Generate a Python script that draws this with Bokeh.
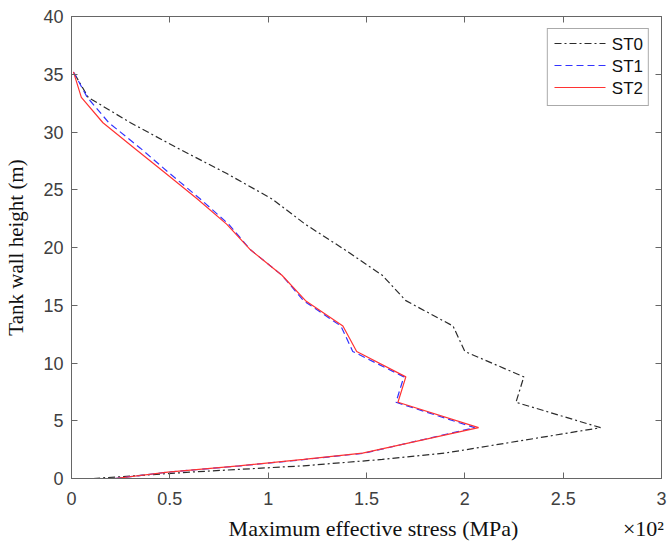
from bokeh.plotting import figure
from bokeh.models import (LinearAxis, FixedTicker, NumeralTickFormatter,
                          CustomJSTickFormatter, Range1d, Arrow)
from bokeh.embed import file_html
from bokeh.resources import INLINE

# ---- data (stress in units of 10^2 MPa, height in m) ----
height = [0, 0.55, 1.1, 1.65, 2.2, 4.4, 6.6, 8.8, 11.0, 13.2, 15.4, 17.6,
          19.8, 22.0, 24.2, 26.4, 28.6, 30.8, 33.0, 35.2]
st0 = [0.11, 0.60, 1.18, 1.58, 1.90, 2.69, 2.26, 2.30, 2.00, 1.94, 1.70, 1.58,
       1.39, 1.19, 1.02, 0.79, 0.54, 0.30, 0.085, 0.01]
st1 = [0.22, 0.49, 0.86, 1.19, 1.49, 2.05, 1.65, 1.69, 1.43, 1.37, 1.18, 1.07,
       0.91, 0.80, 0.655, 0.50, 0.35, 0.19, 0.08, 0.01]
st2 = [0.22, 0.49, 0.85, 1.18, 1.48, 2.07, 1.66, 1.70, 1.45, 1.38, 1.19, 1.07,
       0.91, 0.79, 0.64, 0.48, 0.32, 0.16, 0.05, 0.01]
x_ticks = [0, 0.5, 1, 1.5, 2, 2.5, 3]
y_ticks = [0, 5, 10, 15, 20, 25, 30, 35, 40]
series_names = ["ST0", "ST1", "ST2"]
series_colors = ["#2b2b2b", "#3333ff", "#ff3333"]
series_dash = ["7 3 2 3", "7 4", "solid"]
x_title = "Maximum effective stress (MPa)"
y_title = "Tank wall height (m)"
x_exponent = "×10²"

AX = "#666666"
TICKTXT = "#404040"
SANS = "Liberation Sans"
SERIF = "Liberation Serif"
NB = "\u00a0"

p = figure(width=669, height=543, output_backend="svg", toolbar_location=None,
           x_range=Range1d(0, 3), y_range=Range1d(0, 40),
           min_border_left=71, min_border_right=8, min_border_top=16,
           min_border_bottom=62, x_axis_location="below", y_axis_location="left")
p.background_fill_color = "white"
p.border_fill_color = "white"
p.outline_line_color = AX
p.xgrid.visible = False
p.ygrid.visible = False

for xs, name, col, dash in zip([st0, st1, st2], series_names, series_colors,
                               series_dash):
    p.line(xs, height, line_color=col, line_width=1.2, line_dash=dash)
    # legend entry (its sample line is drawn below as a coloured overlay)
    p.line([], [], line_color=col, line_alpha=0, line_dash=dash,
           legend_label=name)

# main axes
xa = p.xaxis[0]
xa.ticker = FixedTicker(ticks=x_ticks)
xa.formatter = NumeralTickFormatter(format="0.[0]")
ya = p.yaxis[0]
ya.ticker = FixedTicker(ticks=y_ticks)
for ax in (xa, ya):
    ax.major_tick_in = 6
    ax.major_tick_out = 0
    ax.minor_tick_in = 0
    ax.minor_tick_out = 0
    ax.axis_line_color = AX
    ax.major_tick_line_color = AX
    ax.major_label_text_font = SANS
    ax.major_label_text_font_size = "18px"
    ax.major_label_text_color = TICKTXT
    ax.axis_label_text_font = SERIF
    ax.axis_label_text_font_size = "22px"
    ax.axis_label_text_font_style = "normal"
    ax.axis_label_text_color = "#111111"
ya.axis_label = y_title
ya.axis_label_text_font_size = "21px"
# x title and the exponent note share the axis-label line
xa.axis_label = NB * 29 + x_title + NB * 19 + x_exponent
xa.major_label_standoff = 13
xa.axis_label_standoff = 8
ya.major_label_standoff = 8
ya.axis_label_standoff = 12

# mirrored box axes (ticks only)
empty = CustomJSTickFormatter(code="return ''")
top = LinearAxis(ticker=FixedTicker(ticks=x_ticks), formatter=empty)
right = LinearAxis(ticker=FixedTicker(ticks=y_ticks), formatter=empty)
for ax in (top, right):
    ax.major_tick_in = 6
    ax.major_tick_out = 0
    ax.minor_tick_in = 0
    ax.minor_tick_out = 0
    ax.axis_line_color = AX
    ax.major_tick_line_color = AX
    ax.major_label_standoff = 0
    ax.major_label_text_font_size = "1px"
p.add_layout(top, "above")
p.add_layout(right, "right")

lg = p.legend[0]
lg.location = "top_right"
lg.margin = 12
lg.padding = 5
lg.spacing = 0
lg.label_height = 22
lg.glyph_height = 22
lg.glyph_width = 51
lg.label_standoff = 8
lg.label_text_font = SANS
lg.label_text_font_size = "17px"
lg.label_text_color = "#111111"
lg.border_line_color = "#555555"
lg.border_line_width = 1
lg.background_fill_alpha = 0.0

# coloured legend sample lines (screen units, relative to the plot frame)
SAMPLE_X0, SAMPLE_X1 = 483, 534
ROW_Y0, ROW_STEP = 435, 22
for i, (col, dash) in enumerate(zip(series_colors, series_dash)):
    yy = ROW_Y0 - i * ROW_STEP
    p.add_layout(Arrow(end=None, x_start=SAMPLE_X0, x_end=SAMPLE_X1,
                       y_start=yy, y_end=yy, start_units="screen",
                       end_units="screen", line_color=col, line_width=1.2,
                       line_dash=dash, level="overlay"))

open("out.html", "w").write(file_html(p, INLINE))
